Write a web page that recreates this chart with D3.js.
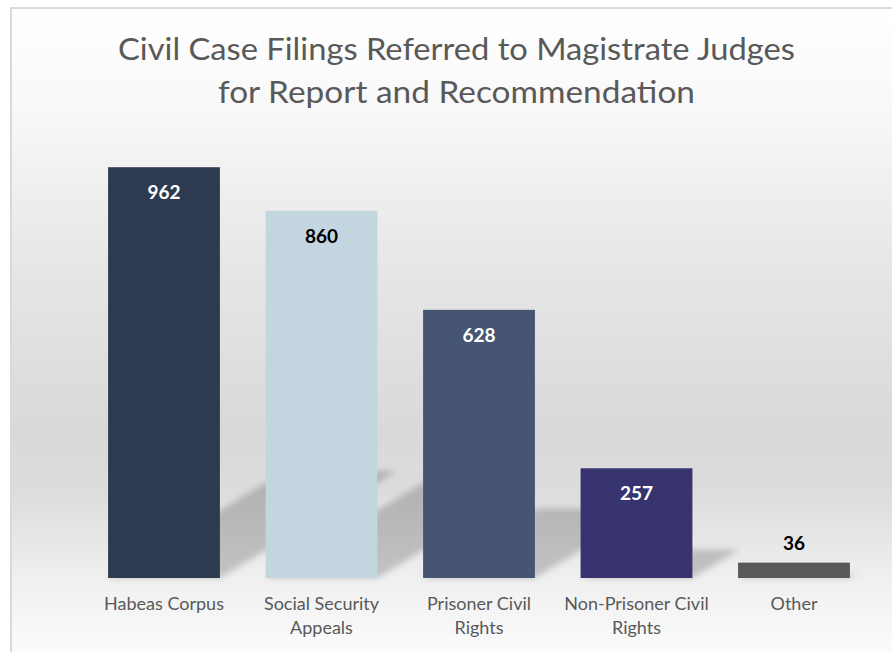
<!DOCTYPE html>
<html><head><meta charset="utf-8">
<script src="https://cdn.jsdelivr.net/npm/d3@7"></script>
<style>html,body{margin:0;padding:0;background:#fff;} svg{display:block}</style>
</head><body><svg id="c" width="892" height="652"></svg>
<script>
// ---- data ----
const categories = ["Habeas Corpus", "Social Security Appeals", "Prisoner Civil Rights", "Non-Prisoner Civil Rights", "Other"];
const tickLabels = [["Habeas Corpus"], ["Social Security", "Appeals"], ["Prisoner Civil", "Rights"], ["Non-Prisoner Civil", "Rights"], ["Other"]];
const values = [962, 860, 628, 257, 36];
const titleLines = ["Civil Case Filings Referred to Magistrate Judges", "for Report and Recommendation"];

// ---- styles ----
const barColors = ["#2e3a4f", "#c3d5df", "#465571", "#36336e", "#595959"];
const labelColors = ["#ffffff", "#000000", "#ffffff", "#ffffff", "#000000"];
const FONT = "Lato, 'Open Sans', sans-serif";

const svg = d3.select("#c");

const defs = svg.append("defs");
const grad = defs.append("linearGradient").attr("id", "bg")
  .attr("gradientUnits", "userSpaceOnUse").attr("x1", 0).attr("y1", 8).attr("x2", 0).attr("y2", 652);
[[8, "#ffffff"], [100, "#f9f9f9"], [270, "#e6e6e6"], [430, "#d9d9d9"], [490, "#dcdcdc"], [545, "#e8e8e8"], [580, "#f0f0f0"], [652, "#fbfbfb"]]
  .forEach(([yy, c]) => grad.append("stop").attr("offset", ((yy - 8) / 644)).attr("stop-color", c));
defs.append("filter").attr("id", "blur").attr("x", "-50%").attr("y", "-50%").attr("width", "200%").attr("height", "200%")
  .append("feGaussianBlur").attr("stdDeviation", 3);

svg.append("rect").attr("x", 11).attr("y", 8).attr("width", 920).attr("height", 700)
  .attr("fill", "url(#bg)").attr("stroke", "#d9d9d9").attr("stroke-width", 2);

// title
svg.append("g").selectAll("text").data(titleLines).join("text")
  .attr("x", 456.5).attr("y", (d, i) => 60 + i * 43)
  .attr("text-anchor", "middle").attr("fill", "#595959")
  .attr("font-family", FONT).attr("font-size", 31)
  .attr("textLength", (d, i) => i === 0 ? 677 : 477).attr("lengthAdjust", "spacingAndGlyphs")
  .text(d => d);

// scales
const x = d3.scaleBand().domain(categories).range([85.25, 872.75]).paddingInner(0.29).paddingOuter(0.145);
const y = d3.scaleLinear().domain([0, 1000]).range([578, 151]);
const bw = x.bandwidth();

// shadows
const cx = 0.43, cy = 0.26;
svg.append("g").attr("filter", "url(#blur)").selectAll("polygon").data(values).join("polygon")
  .attr("points", (v, i) => {
    const x0 = x(categories[i]), x1 = x0 + bw, b = y(0), h = y(0) - y(v);
    return [[x0, b], [x1, b], [x1 + h * cx, b - h * cy], [x0 + h * cx, b - h * cy]].map(p => p.join(",")).join(" ");
  })
  .attr("fill", "#000").attr("fill-opacity", 0.19);

// bars
svg.append("g").selectAll("rect").data(values).join("rect")
  .attr("x", (v, i) => x(categories[i])).attr("width", bw)
  .attr("y", v => y(v)).attr("height", v => y(0) - y(v))
  .attr("fill", (v, i) => barColors[i]);

// value labels
svg.append("g").selectAll("text").data(values).join("text")
  .attr("x", (v, i) => x(categories[i]) + bw / 2)
  .attr("y", v => (y(0) - y(v) > 40) ? y(v) + 32 : y(v) - 13)
  .attr("text-anchor", "middle").attr("font-family", FONT).attr("font-weight", "bold").attr("font-size", 19)
  .attr("fill", (v, i) => labelColors[i])
  .text(v => v);

// x axis
const ax = svg.append("g").attr("transform", `translate(0,${y(0)})`)
  .call(d3.axisBottom(x).tickSize(0).tickPadding(0));
ax.select(".domain").remove();
ax.selectAll(".tick text").each(function (d) {
  const i = categories.indexOf(d);
  const t = d3.select(this).text(null).attr("y", 0).attr("dy", null)
    .attr("font-family", FONT).attr("font-size", 18).attr("fill", "#595959");
  tickLabels[i].forEach((line, j) => {
    t.append("tspan").attr("x", 0).attr("y", 32 + j * 24).text(line);
  });
});
</script></body></html>
